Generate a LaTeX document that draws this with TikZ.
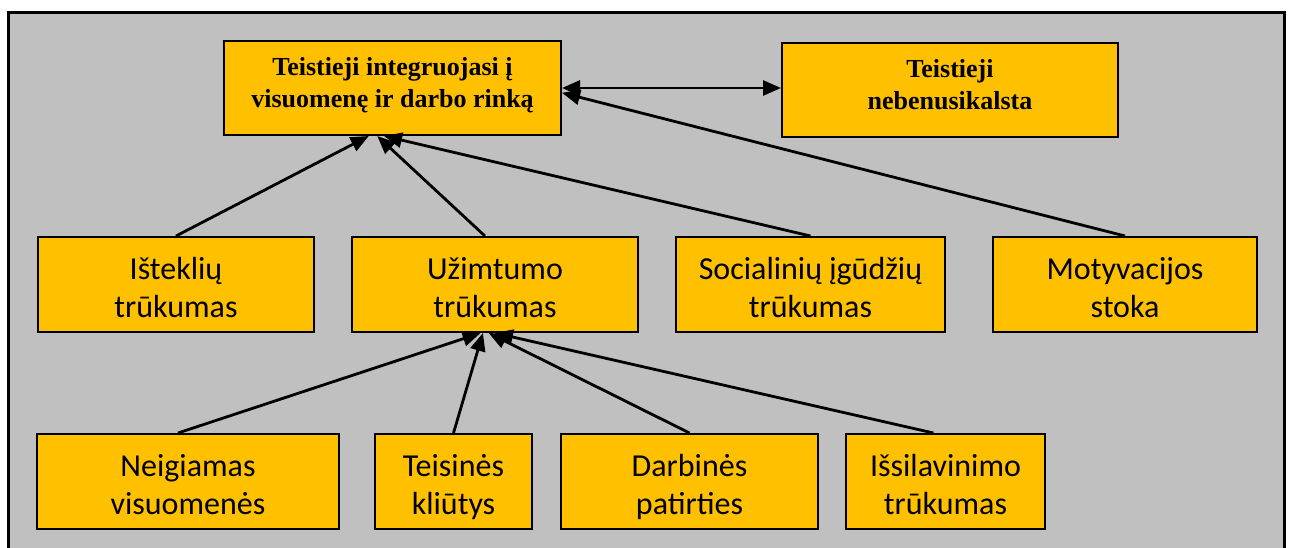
\documentclass[tikz,border=0pt]{standalone}
\usepackage{fontspec}
\setmainfont{Liberation Serif}
\newfontfamily\calibri{Carlito}
\usetikzlibrary{arrows.meta,calc}
\definecolor{boxfill}{HTML}{FFC000}
\definecolor{panel}{HTML}{C0C0C0}
\newcommand\ltop{\rule{0pt}{39pt}}
\newcommand\lbot{\rule[-11.4pt]{0pt}{11.4pt}}
\newcommand\ttop{\rule{0pt}{22pt}}
\newcommand\tbot{\rule[-14pt]{0pt}{14pt}}
\tikzset{
  box/.style={draw=black, line width=2pt, fill=boxfill, inner sep=0pt, align=center},
  topbox/.style={box, font=\fontsize{26}{32}\selectfont\bfseries},
  lowbox/.style={box, font=\calibri\fontsize{32}{38}\selectfont},
  conn/.style={line width=2.8pt, -{Triangle[length=18pt,width=15pt]}},
  biconn/.style={line width=2.8pt, {Triangle[length=18pt,width=15pt]}-{Triangle[length=18pt,width=15pt]}}
}
\begin{document}
\begin{tikzpicture}[x=1pt,y=-1pt]
\useasboundingbox (0,0) rectangle (1290,548);
\fill[white] (0,0) rectangle (1290,548);
\begin{scope}
\clip (0,0) rectangle (1290,548);
\draw[line width=3pt, fill=panel] (8,13) rectangle (1284,570);
\end{scope}
% top row
\node[topbox, minimum width=337pt, minimum height=94pt] (goal) at (392.5,88) {\ttop Teistieji integruojasi į\\visuomenę ir darbo rinką\tbot};
\node[topbox, minimum width=336pt, minimum height=94pt] (nocrime) at (950,90) {\ttop Teistieji\\nebenusikalsta\tbot};
% second row
\node[lowbox, minimum width=276pt, minimum height=95pt] (resources) at (176,284.5) {\ltop Išteklių\\trūkumas\lbot};
\node[lowbox, minimum width=286pt, minimum height=95pt] (employment) at (495,284.5) {\ltop Užimtumo\\trūkumas\lbot};
\node[lowbox, minimum width=269pt, minimum height=95pt] (social) at (810.5,284.5) {\ltop Socialinių įgūdžių\\trūkumas\lbot};
\node[lowbox, minimum width=264pt, minimum height=95pt] (motivation) at (1125,284.5) {\ltop Motyvacijos\\stoka\lbot};
% third row
\node[lowbox, minimum width=302pt, minimum height=95pt] (negative) at (188,481.5) {\ltop Neigiamas\\visuomenės\lbot};
\node[lowbox, minimum width=157pt, minimum height=95pt] (legal) at (453.5,481.5) {\ltop Teisinės\\kliūtys\lbot};
\node[lowbox, minimum width=257pt, minimum height=95pt] (work) at (689.5,481.5) {\ltop Darbinės\\patirties\lbot};
\node[lowbox, minimum width=199pt, minimum height=95pt] (education) at (945.5,481.5) {\ltop Išsilavinimo\\trūkumas\lbot};
% connectors to goal
\draw[biconn] (goal.east) -- (goal.east -| nocrime.west);
\draw[conn] (resources.north) -- ($(goal.south west)!0.43!(goal.south east)$);
\draw[conn] ($(employment.north west)!0.465!(employment.north east)$) -- ($(goal.south west)!0.455!(goal.south east)$);
\draw[conn] (social.north) -- ($(goal.south west)!0.475!(goal.south east)$);
\draw[conn] (motivation.north) -- ($(goal.north east)!0.55!(goal.south east)$);
% connectors to employment
\draw[conn] ($(negative.north west)!0.467!(negative.north east)$) -- ($(employment.south west)!0.45!(employment.south east)$);
\draw[conn] (legal.north) -- ($(employment.south west)!0.458!(employment.south east)$);
\draw[conn] (work.north) -- ($(employment.south west)!0.478!(employment.south east)$);
\draw[conn] ($(education.north west)!0.44!(education.north east)$) -- ($(employment.south west)!0.5!(employment.south east)$);
\end{tikzpicture}
\end{document}
